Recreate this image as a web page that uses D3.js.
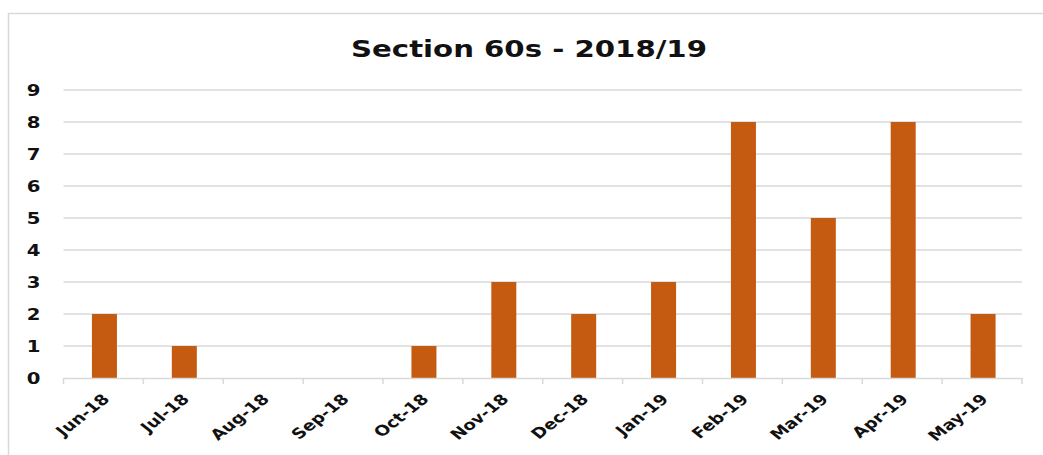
<!DOCTYPE html>
<html><head><meta charset="utf-8">
<script src="https://cdn.jsdelivr.net/npm/d3@7"></script>
<style>html,body{margin:0;padding:0;background:#fff;overflow:hidden}</style>
</head><body>
<script>
const categories = ["Jun-18","Jul-18","Aug-18","Sep-18","Oct-18","Nov-18","Dec-18","Jan-19","Feb-19","Mar-19","Apr-19","May-19"];
const values = [2,1,0,0,1,3,2,3,8,5,8,2];
const yTicks = [0,1,2,3,4,5,6,7,8,9];
const title = "Section 60s - 2018/19";

const W = 1043, H = 455, SX = 1.27;
const plotL = 63.5, plotR = 1022, plotT = 90, plotB = 378;
const font = "'DejaVu Sans', Verdana, sans-serif";

const svg = d3.select("body").append("svg").attr("width", W).attr("height", H);
svg.append("rect").attr("x", 8.5).attr("y", 13.5).attr("width", 1100).attr("height", 500)
  .attr("fill", "none").attr("stroke", "#d9d9d9").attr("stroke-width", 1.5);

const x = d3.scaleBand().domain(categories).range([plotL, plotR]);
const y = d3.scaleLinear().domain([0, 9]).range([plotB, plotT]);

// title
svg.append("text").attr("transform", `translate(529,57) scale(${SX},1)`)
  .attr("text-anchor", "middle").attr("font-family", font).attr("font-weight", "bold")
  .attr("font-size", 23).attr("fill", "#111").text(title);

// gridlines
svg.append("g").selectAll("line").data(yTicks.filter(d => d > 0)).join("line")
  .attr("x1", plotL).attr("x2", plotR).attr("y1", d => y(d)).attr("y2", d => y(d))
  .attr("stroke", "#d9d9d9").attr("stroke-width", 1.5);

// y labels
const yAxis = d3.axisLeft(y).tickValues(yTicks).tickSize(0).tickPadding(0).tickFormat(d3.format("d"));
const gy = svg.append("g").attr("transform", `translate(${plotL},0)`).call(yAxis);
gy.select(".domain").remove();
gy.selectAll("text").attr("font-family", font).attr("font-weight", "bold").attr("font-size", 15.5)
  .attr("fill", "#111").attr("x", null).attr("dy", null)
  .attr("text-anchor", "end").attr("dominant-baseline", "central")
  .attr("transform", `translate(-23,0) scale(${SX},1)`);

// bars
const bw = 25;
svg.append("g").selectAll("rect").data(values).join("rect")
  .attr("x", (d, i) => x(categories[i]) + x.bandwidth() / 2 - bw / 2 + 1)
  .attr("width", bw)
  .attr("y", d => y(d)).attr("height", d => y(0) - y(d))
  .attr("fill", "#C55A11");

// x axis
const xAxis = d3.axisBottom(x).tickSize(0).tickFormat(() => "");
const gx = svg.append("g").attr("transform", `translate(0,${plotB})`).call(xAxis);
gx.select(".domain").attr("stroke", "#d9d9d9").attr("stroke-width", 1.5);
gx.selectAll(".tick").remove();
const edges = categories.map(c => x(c)).concat([plotR]);
gx.selectAll("line.edge").data(edges).join("line").attr("class", "edge")
  .attr("x1", d => d).attr("x2", d => d).attr("y1", 0).attr("y2", 6)
  .attr("stroke", "#d9d9d9").attr("stroke-width", 1.5);

svg.append("g").selectAll("text").data(categories).join("text")
  .attr("transform", d => `translate(${x(d) + x.bandwidth() / 2 + 7},400) scale(${SX},1) rotate(-45)`)
  .attr("text-anchor", "end").attr("font-family", font).attr("font-weight", "bold")
  .attr("font-size", 14.5).attr("fill", "#111").text(d => d);
</script>
</body></html>
